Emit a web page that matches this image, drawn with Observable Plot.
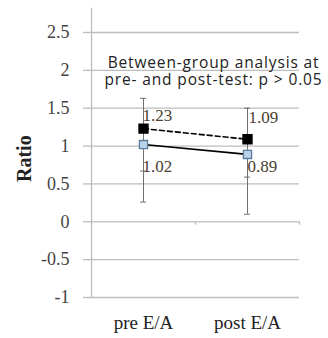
<!DOCTYPE html>
<html><head><meta charset="utf-8">
<script src="https://cdn.jsdelivr.net/npm/d3@7"></script>
<script src="https://cdn.jsdelivr.net/npm/@observablehq/plot@0.6"></script>
<style>body{margin:0;background:#fff} .annot text{letter-spacing:0.85px}</style>
</head><body><div id="chart"></div>
<script>
const categories = ["pre E/A", "post E/A"];
const dashedValues = [1.23, 1.09];
const solidValues = [1.02, 0.89];
const dashedLow = [0.67, 0.59];
const dashedHigh = [1.63, 1.50];
const solidLow = [0.26, 0.10];
const solidHigh = [1.02, 0.89];
const yTicks = [-1, -0.5, 0, 0.5, 1, 1.5, 2, 2.5];
const annotation = ["Between-group analysis at", "pre- and post-test: p > 0.05"];
const yLabel = "Ratio";

const dashed = categories.map((c, i) => ({cat: c, v: dashedValues[i], lo: dashedLow[i], hi: dashedHigh[i]}));
const solid = categories.map((c, i) => ({cat: c, v: solidValues[i], lo: solidLow[i], hi: solidHigh[i]}));
const errs = [...dashed, ...solid];
const fmt = d3.format(".2f");
const serif = "Liberation Serif, serif";
const gridColor = "#bdbdbd";
const errColor = "#707070";
const labelColor = "#4a4030";

const chart = Plot.plot({
  width: 328, height: 338,
  marginLeft: 91, marginRight: 29, marginTop: 32, marginBottom: 41,
  style: {background: "#fff", fontFamily: serif},
  x: {domain: categories, padding: 0, axis: null},
  y: {domain: [-1, 2.5], axis: null},
  marks: [
    Plot.ruleY(yTicks, {stroke: gridColor, strokeWidth: 1.3}),
    Plot.tickY(yTicks, {x: () => categories[0], dx: -56, inset: 48, stroke: gridColor, strokeWidth: 1.3, clip: false}),
    Plot.text(yTicks, {x: () => categories[0], y: d => d, text: d => String(d), dx: -74, textAnchor: "end", fontSize: 18, fill: "#444", fontFamily: serif}),
    Plot.ruleX([categories[0]], {dx: -52, y1: -1, y2: 2.82, stroke: gridColor, strokeWidth: 1.3}),
    Plot.ruleX(categories, {dx: 52, y1: 0, y2: -0.045, stroke: gridColor, strokeWidth: 1.3}),
    Plot.text(categories, {x: d => d, frameAnchor: "bottom", dy: 31, fontSize: 19, fill: "#222", fontFamily: serif}),
    Plot.text([yLabel], {frameAnchor: "left", rotate: -90, dx: -67, dy: 17, fontSize: 20, fontWeight: "bold", fill: "#222", fontFamily: serif}),
    Plot.text([annotation[0]], {frameAnchor: "top", lineAnchor: "middle", dx: 18, dy: 31, fontSize: 15.5, fontFamily: "Open Sans, sans-serif", fill: "#222", className: "annot"}),
    Plot.text([annotation[1]], {frameAnchor: "top", lineAnchor: "middle", dx: 18, dy: 48, fontSize: 15.5, fontFamily: "Open Sans, sans-serif", fill: "#222", className: "annot"}),
    // error bars
    Plot.ruleX(errs, {x: "cat", y1: "lo", y2: "hi", stroke: errColor, strokeWidth: 1}),
    Plot.tickY(errs, {x: "cat", y: "lo", stroke: errColor, strokeWidth: 1, inset: 49}),
    Plot.tickY(errs, {x: "cat", y: "hi", stroke: errColor, strokeWidth: 1, inset: 49}),
    // lines
    Plot.line(dashed, {x: "cat", y: "v", stroke: "#000", strokeWidth: 1.6, strokeDasharray: "5,3"}),
    Plot.line(solid, {x: "cat", y: "v", stroke: "#000", strokeWidth: 1.6}),
    // markers
    Plot.dot(dashed, {x: "cat", y: "v", symbol: "square", r: 5, fill: "#000", stroke: "#000"}),
    Plot.dot(solid, {x: "cat", y: "v", symbol: "square", r: 4.6, fill: "#b9d4ea", stroke: "#5b7c9c", strokeWidth: 1.3}),
    // value labels
    Plot.text([dashed[0]], {x: "cat", y: "v", text: d => fmt(d.v), textAnchor: "start", dx: -1, dy: -13, fontSize: 17, fill: labelColor, fontFamily: serif}),
    Plot.text([dashed[1]], {x: "cat", y: "v", text: d => fmt(d.v), textAnchor: "start", dx: 1, dy: -22, fontSize: 17, fill: labelColor, fontFamily: serif}),
    Plot.text([solid[0]], {x: "cat", y: "v", text: d => fmt(d.v), textAnchor: "start", dx: -1, dy: 22, fontSize: 17, fill: labelColor, fontFamily: serif}),
    Plot.text([solid[1]], {x: "cat", y: "v", text: d => fmt(d.v), textAnchor: "start", dx: 0, dy: 12, fontSize: 17, fill: labelColor, fontFamily: serif})
  ]
});
document.getElementById("chart").appendChild(chart);
</script>
</body></html>
